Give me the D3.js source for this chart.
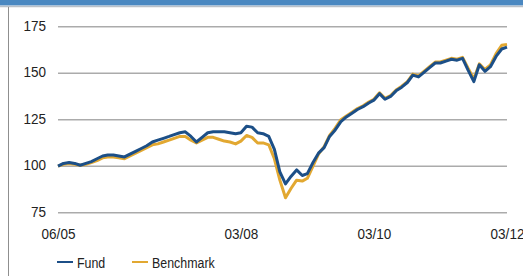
<!DOCTYPE html>
<html>
<head>
<meta charset="utf-8">
<script src="https://cdn.jsdelivr.net/npm/d3@7"></script>
<style>
  body { margin: 0; background: #fff; }
  svg text { font-family: "Liberation Sans", Arial, sans-serif; fill: #222; }
</style>
</head>
<body>
<svg id="perf_chart" width="523" height="276"></svg>
<script>

// monthly values, 06/05 .. 03/12
var months = [
  "2005-06","2005-07","2005-08","2005-09","2005-10","2005-11","2005-12",
  "2006-01","2006-02","2006-03","2006-04","2006-05","2006-06","2006-07","2006-08","2006-09","2006-10","2006-11","2006-12",
  "2007-01","2007-02","2007-03","2007-04","2007-05","2007-06","2007-07","2007-08","2007-09","2007-10","2007-11","2007-12",
  "2008-01","2008-02","2008-03","2008-04","2008-05","2008-06","2008-07","2008-08","2008-09","2008-10","2008-11","2008-12",
  "2009-01","2009-02","2009-03","2009-04","2009-05","2009-06","2009-07","2009-08","2009-09","2009-10","2009-11","2009-12",
  "2010-01","2010-02","2010-03","2010-04","2010-05","2010-06","2010-07","2010-08","2010-09","2010-10","2010-11","2010-12",
  "2011-01","2011-02","2011-03","2011-04","2011-05","2011-06","2011-07","2011-08","2011-09","2011-10","2011-11","2011-12",
  "2012-01","2012-02","2012-03"
];

var fund = [
  100,101.5,102,101.5,100.5,101.5,102.5,104,105.5,106,
  106,105.5,105,106.5,108,109.5,111,113,114,115,
  116,117,118,118.5,116,113,115.5,118,118.5,118.5,
  118.5,118,117.5,118,121.5,121,118,117.5,116,109,
  97,90.5,94.5,98,95,96,102,107,110,116,
  119.5,124,126.5,128.5,130.5,132,134,135.5,139,136,
  137.5,140.5,142.5,145,149,148,150.5,153,155.5,155.5,
  156.5,157.5,157,158,151.5,145.5,154.5,151,153.5,159,
  163,164
];

var benchmark = [
  100,101,101.5,101,100.5,101,102,103,104.5,105,
  105,104.5,104,105.5,107,108.5,110,111.5,112,113,
  114,115,116,116,114,112.5,114,115.5,115.5,114.5,
  113.5,113,112,113.5,116.5,115.5,112.5,112.5,111.5,104,
  92.5,83,88,92.5,92,93.5,100,106.5,110.5,116.5,
  120.5,125,127,129,131,132.5,134.5,136,139.5,136.5,
  138,141,143,145.5,149.5,148.5,151,153.5,156,156,
  157,158,157.5,158.5,152.5,147,155,152,154.5,160.5,
  165,165.5
];

var y_ticks = [75, 100, 125, 150, 175];
var x_ticks = ["2005-06", "2008-03", "2010-03", "2012-03"];
var series_names = ["Fund", "Benchmark"];

var parse_month = d3.timeParse("%Y-%m");

var svg = d3.select("#perf_chart");

// squeeze text horizontally (narrow face in the original)
function condense(sel, k) {
  sel.each(function() {
    var w = this.getComputedTextLength();
    d3.select(this).attr("textLength", w * k).attr("lengthAdjust", "spacingAndGlyphs");
  });
}

// header strip + frame
svg.append("rect").attr("x", 0).attr("y", 0).attr("width", 523).attr("height", 5.5).attr("fill", "#4a88c1");
svg.append("line").attr("x1", 0).attr("x2", 523).attr("y1", 6.5).attr("y2", 6.5)
   .attr("stroke", "#b9c0c8").attr("stroke-width", 1.5);
svg.append("line").attr("x1", 8.5).attr("x2", 8.5).attr("y1", 7).attr("y2", 276)
   .attr("stroke", "#8f8f8f").attr("stroke-width", 1);

var x = d3.scaleTime()
    .domain([parse_month(months[0]), parse_month(months[months.length - 1])])
    .range([58, 507]);

var y = d3.scaleLinear().domain([75, 175]).range([212.7, 26.7]);

// grid
svg.append("g").attr("class", "grid")
  .selectAll("line").data(y_ticks).enter().append("line")
    .attr("x1", 58).attr("x2", 507)
    .attr("y1", function(d) { return y(d); })
    .attr("y2", function(d) { return y(d); })
    .attr("stroke", "#ababab").attr("stroke-width", 1.6);

// y axis
var yAxis = d3.axisLeft(y).tickValues(y_ticks).tickSize(0).tickPadding(12);
var gy = svg.append("g").attr("transform", "translate(58,0)").call(yAxis);
gy.select(".domain").remove();
gy.selectAll("text").style("font-size", "15px").attr("dy", "0.22em");
condense(gy.selectAll("text"), 0.9);

// x axis
var xAxis = d3.axisBottom(x)
    .tickValues(x_ticks.map(parse_month))
    .tickSize(0).tickPadding(11)
    .tickFormat(d3.timeFormat("%m/%y"));
var gx = svg.append("g").attr("transform", "translate(0,217)").call(xAxis);
gx.select(".domain").remove();
gx.selectAll("text").style("font-size", "15px");
condense(gx.selectAll("text"), 0.9);

// lines
var colors = {"Fund": "#1c4f87", "Benchmark": "#e2a831"};

function make_line(values) {
  return d3.line()
    .x(function(d, i) { return x(parse_month(months[i])); })
    .y(function(d) { return y(d); })(values);
}

svg.append("path").attr("d", make_line(benchmark))
   .attr("fill", "none").attr("stroke", colors["Benchmark"]).attr("stroke-width", 3)
   .attr("stroke-linejoin", "round");
svg.append("path").attr("d", make_line(fund))
   .attr("fill", "none").attr("stroke", colors["Fund"]).attr("stroke-width", 3)
   .attr("stroke-linejoin", "round");

// legend
var legend_x = [57, 132];
var lg = svg.append("g").selectAll("g").data(series_names).enter().append("g")
    .attr("transform", function(d, i) { return "translate(" + legend_x[i] + ",262)"; });
lg.append("line").attr("x1", 0).attr("x2", 16).attr("y1", 0).attr("y2", 0)
    .attr("stroke", function(d) { return colors[d]; }).attr("stroke-width", 2);
lg.append("text").attr("x", 20).attr("y", 5.5).style("font-size", "15.5px")
    .text(function(d) { return d; });
condense(lg.selectAll("text"), 0.8);

</script>
</body>
</html>
